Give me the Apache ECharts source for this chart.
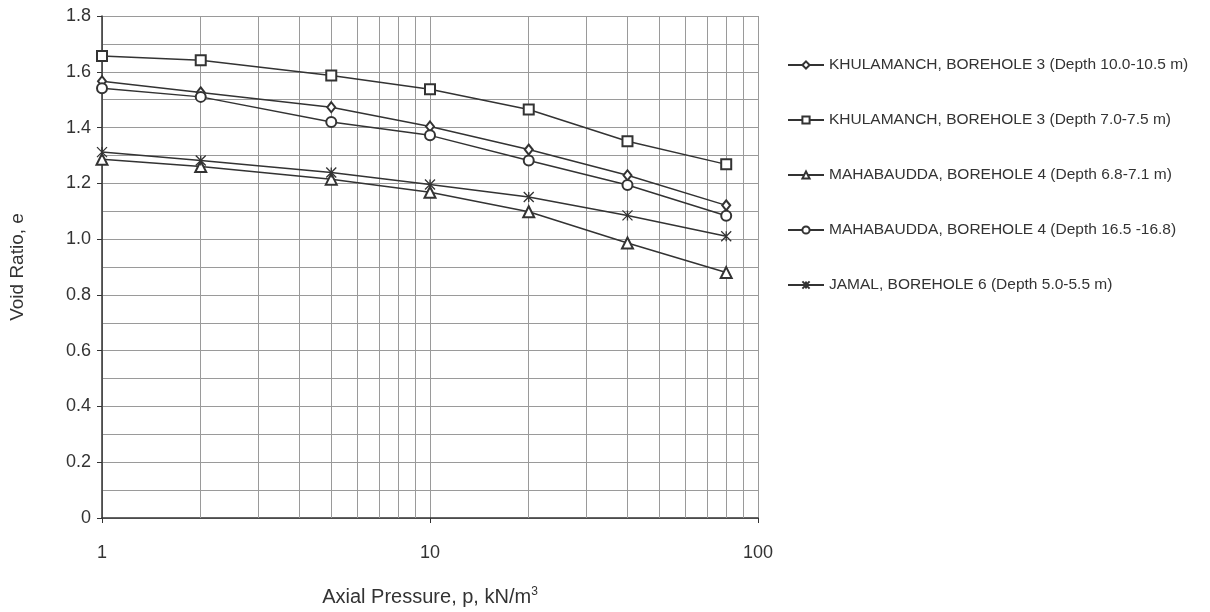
<!DOCTYPE html>
<html>
<head>
<meta charset="utf-8">
<script src="https://cdn.jsdelivr.net/npm/echarts@6/dist/echarts.min.js"></script>
<style>
html,body{margin:0;padding:0;background:#fff;}
#chart{width:1210px;height:612px;}
</style>
</head>
<body>
<div id="chart"></div>
<script>
// Axial pressure values (x, log scale)
const pressures = [1, 2, 5, 10, 20, 40, 80];
// Series names
const seriesNames = [
  'KHULAMANCH, BOREHOLE 3 (Depth 10.0-10.5 m)',
  'KHULAMANCH, BOREHOLE 3 (Depth 7.0-7.5 m)',
  'MAHABAUDDA, BOREHOLE 4 (Depth 6.8-7.1 m)',
  'MAHABAUDDA, BOREHOLE 4 (Depth 16.5 -16.8)',
  'JAMAL, BOREHOLE 6 (Depth 5.0-5.5 m)'
];
// Void ratios
const khulamanch10 = [1.566, 1.526, 1.473, 1.404, 1.321, 1.229, 1.121];
const khulamanch7 = [1.657, 1.641, 1.587, 1.537, 1.465, 1.351, 1.268];
const mahabaudda68 = [1.286, 1.260, 1.215, 1.168, 1.098, 0.986, 0.880];
const mahabaudda165 = [1.541, 1.510, 1.420, 1.372, 1.282, 1.194, 1.084];
const jamal5 = [1.312, 1.282, 1.239, 1.196, 1.151, 1.085, 1.010];
// Minor vertical grid positions (log decades)
const minorXGrid = [2, 3, 4, 5, 6, 7, 8, 9, 20, 30, 40, 50, 60, 70, 80, 90];
// Tick labels
const yTicks = [0, 0.2, 0.4, 0.6, 0.8, 1.0, 1.2, 1.4, 1.6, 1.8];
const xTicks = [1, 10, 100];

const seriesValues = [khulamanch10, khulamanch7, mahabaudda68, mahabaudda165, jamal5];
const asterisk = 'path://M0,0L10,10M10,0L0,10M5,0L5,10';
const symbols = ['emptyDiamond', 'emptyRect', 'emptyTriangle', 'emptyCircle', asterisk];
const symbolSizes = [[8, 10], 10, 11, 10, 10];
const ink = '#333';
const gridColor = '#9a9a9a';
const font = 'Liberation Sans, Arial, sans-serif';

const series = seriesValues.map((vals, i) => {
  const s = {
    name: seriesNames[i],
    type: 'line',
    data: pressures.map((p, j) => [p, vals[j]]),
    symbol: symbols[i],
    symbolSize: symbolSizes[i],
    showAllSymbol: true,
    lineStyle: {color: ink, width: 1.5},
    itemStyle: {color: ink, borderColor: ink, borderWidth: 1.3},
    z: 3
  };
  if (i === 0) {
    s.markLine = {
      silent: true,
      symbol: 'none',
      label: {show: false},
      animation: false,
      lineStyle: {color: gridColor, width: 1, type: 'solid'},
      data: minorXGrid.map(v => ({xAxis: v})),
      z: 1
    };
  }
  return s;
});

const chart = echarts.init(document.getElementById('chart'), null, {renderer: 'canvas'});
chart.setOption({
  animation: false,
  backgroundColor: '#fff',
  textStyle: {fontFamily: font},
  grid: {left: 99, top: 16, right: 452, bottom: 86, containLabel: false},
  legend: {
    orient: 'vertical',
    left: 782,
    top: 52,
    itemWidth: 36,
    itemHeight: 9,
    itemGap: 39,
    textStyle: {fontSize: 15.5, color: ink, fontFamily: font},
    data: seriesNames
  },
  xAxis: {
    type: 'log',
    logBase: 10,
    min: 1,
    max: 100,
    name: 'Axial Pressure, p, kN/m{sup|3}',
    nameLocation: 'middle',
    nameGap: 68,
    nameTextStyle: {
      fontSize: 20, color: ink, fontFamily: font,
      rich: {sup: {fontSize: 12, verticalAlign: 'top', padding: [0, 0, 10, 0], color: ink}}
    },
    axisLine: {show: true, lineStyle: {color: ink, width: 1.5}},
    axisTick: {show: true, length: 5, lineStyle: {color: ink}},
    axisLabel: {fontSize: 18, color: ink, margin: 26, formatter: v => String(v)},
    splitLine: {show: true, lineStyle: {color: gridColor, width: 1}}
  },
  yAxis: {
    type: 'value',
    min: 0,
    max: 1.8,
    interval: 0.2,
    name: 'Void Ratio, e',
    nameLocation: 'middle',
    nameGap: 75,
    nameTextStyle: {fontSize: 19, color: ink, fontFamily: font},
    axisLine: {show: true, lineStyle: {color: ink, width: 1.5}},
    axisTick: {show: true, length: 5, lineStyle: {color: ink}},
    axisLabel: {fontSize: 18, color: ink, margin: 11,
      formatter: v => {
        const t = yTicks.find(x => Math.abs(x - v) < 1e-9);
        if (t === undefined) return '';
        return t === 0 ? '0' : t.toFixed(1);
      }},
    splitLine: {show: true, lineStyle: {color: gridColor, width: 1}},
    minorTick: {show: false, splitNumber: 2},
    minorSplitLine: {show: true, lineStyle: {color: gridColor, width: 1}}
  },
  series: series
});
</script>
</body>
</html>
